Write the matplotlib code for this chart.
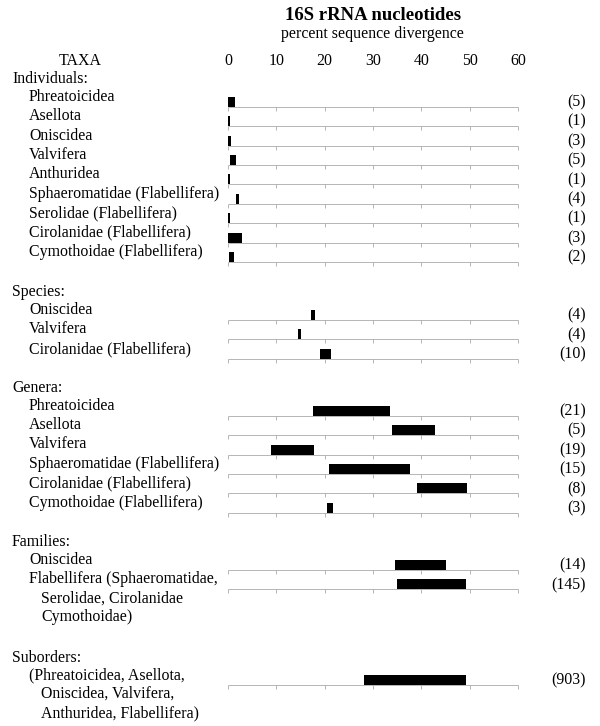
import matplotlib
matplotlib.use("Agg")
import matplotlib.pyplot as plt
import matplotlib.transforms as mtransforms

plt.rcParams['font.family'] = ['Liberation Serif', 'DejaVu Serif']

# ---------------- data ----------------
ind_labels = ["Phreatoicidea", "Asellota", "Oniscidea", "Valvifera", "Anthuridea",
              "Sphaeromatidae (Flabellifera)", "Serolidae (Flabellifera)",
              "Cirolanidae (Flabellifera)", "Cymothoidae (Flabellifera)"]
ind_start = [0, 0, 0, 0.5, 0, 1.6, 0, 0, 0.3]
ind_end = [1.5, 0.5, 0.6, 1.6, 0.5, 2.3, 0.5, 2.8, 1.2]
ind_n = ["(5)", "(1)", "(3)", "(5)", "(1)", "(4)", "(1)", "(3)", "(2)"]

sp_labels = ["Oniscidea", "Valvifera", "Cirolanidae (Flabellifera)"]
sp_start = [17.2, 14.4, 19.1]
sp_end = [18.0, 15.2, 21.4]
sp_n = ["(4)", "(4)", "(10)"]

gen_labels = ["Phreatoicidea", "Asellota", "Valvifera", "Sphaeromatidae (Flabellifera)",
              "Cirolanidae (Flabellifera)", "Cymothoidae (Flabellifera)"]
gen_start = [17.6, 34.0, 8.9, 20.9, 39.0, 20.5]
gen_end = [33.5, 42.8, 17.7, 37.6, 49.4, 21.8]
gen_n = ["(21)", "(5)", "(19)", "(15)", "(8)", "(3)"]

fam_labels = ["Oniscidea",
              "Flabellifera (Sphaeromatidae,\nSerolidae, Cirolanidae\nCymothoidae)"]
fam_start = [34.5, 34.9]
fam_end = [45.1, 49.3]
fam_n = ["(14)", "(145)"]

sub_labels = ["(Phreatoicidea, Asellota,\nOniscidea, Valvifera,\nAnthuridea, Flabellifera)"]
sub_start = [28.2]
sub_end = [49.3]
sub_n = ["(903)"]

xticks = [0, 10, 20, 30, 40, 50, 60]

groups = [
    ("Individuals:", ind_labels, ind_start, ind_end, ind_n),
    ("Species:", sp_labels, sp_start, sp_end, sp_n),
    ("Genera:", gen_labels, gen_start, gen_end, gen_n),
    ("Families:", fam_labels, fam_start, fam_end, fam_n),
    ("Suborders:", sub_labels, sub_start, sub_end, sub_n),
]

# ---------------- layout ----------------
W, H = 600, 726
X0, PX_PER_UNIT = 228, 290 / 60.0
first_base = [106.6, 320, 415.6, 570, 685]
row_gap = 19.45
line_gap = 19.0
fs = 11.4

fig = plt.figure(figsize=(W / 100, H / 100), dpi=100)
ax = fig.add_axes([0, 0, 1, 1])
ax.set_xlim(-X0 / PX_PER_UNIT, (W - X0) / PX_PER_UNIT)
ax.set_ylim(H, 0)
ax.axis("off")

pix = mtransforms.Affine2D().scale(1 / W, -1 / H).translate(0, 1) + fig.transFigure

fig.text(373, 15, "16S rRNA nucleotides", transform=pix, ha="center", va="center",
         fontsize=13.5, fontweight="bold")
fig.text(372, 34, "percent sequence divergence", transform=pix, ha="center",
         va="center", fontsize=fs)
fig.text(80, 61, "TAXA", transform=pix, ha="center", va="center", fontsize=fs)
for t in xticks:
    ax.text(t, 61, str(t), ha="center", va="center", fontsize=fs)

for (hdr, labels, starts, ends, ns), b0 in zip(groups, first_base):
    fig.text(12, b0 - 10 - 17.5, hdr, transform=pix, ha="left", va="center",
             fontsize=fs)
    for i, (lab, s, e, n) in enumerate(zip(labels, starts, ends, ns)):
        base = b0 + i * row_gap
        ly = base - 10
        for j, ln in enumerate(lab.split("\n")):
            fig.text(29 if j == 0 else 41, ly + j * line_gap, ln, transform=pix,
                     ha="left", va="center", fontsize=fs)
        ax.hlines(base, xticks[0], xticks[-1], color="#aaaaaa", lw=0.6)
        ax.vlines(xticks, base, base + 4, color="#aaaaaa", lw=0.6)
        ax.barh(base - 5, e - s, left=s, height=10, color="black", linewidth=0)
        fig.text(586, base - 4.5, n, transform=pix, ha="right", va="center",
                 fontsize=fs)

fig.savefig("out.png", dpi=100)
